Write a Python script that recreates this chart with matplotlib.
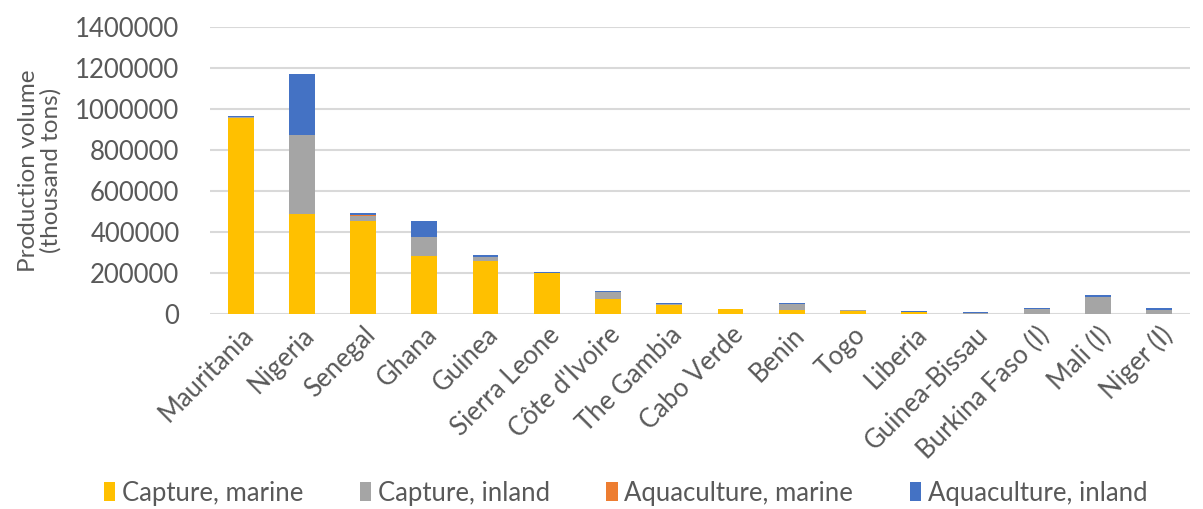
import numpy as np
import matplotlib
matplotlib.use("Agg")
import matplotlib.pyplot as plt

countries = ["Mauritania", "Nigeria", "Senegal", "Ghana", "Guinea", "Sierra Leone",
             "Côte d'Ivoire", "The Gambia", "Cabo Verde", "Benin", "Togo", "Liberia",
             "Guinea-Bissau", "Burkina Faso (I)", "Mali (I)", "Niger (I)"]
capture_marine = [955000, 486000, 454000, 283000, 257000, 198000, 72000, 45000, 26000,
                  21000, 17000, 11000, 2000, 0, 0, 0]
capture_inland = [8000, 387000, 26000, 91000, 23000, 1000, 34000, 2000, 0,
                  28000, 2000, 1000, 2000, 24000, 84000, 22000]
aqua_marine = [0, 0, 5000, 0, 0, 0, 0, 0, 0, 0, 0, 0, 0, 0, 0, 0]
aqua_inland = [2000, 296000, 8000, 78000, 8000, 6000, 6000, 5000, 0,
               6000, 3000, 4000, 4000, 6000, 7000, 7000]

series = [
    ("Capture, marine", capture_marine, "#FFC000"),
    ("Capture, inland", capture_inland, "#A5A5A5"),
    ("Aquaculture, marine", aqua_marine, "#ED7D31"),
    ("Aquaculture, inland", aqua_inland, "#4472C4"),
]

plt.rcParams["font.family"] = ["Lato", "DejaVu Sans"]
fig = plt.figure(figsize=(12.03, 5.09), dpi=100)
ax = fig.add_axes([0.1746, 0.383, 0.8144, 0.564])

x = np.arange(len(countries))
bottom = np.zeros(len(countries))
for label, vals, color in series:
    vals = np.array(vals, dtype=float)
    ax.bar(x, vals, 0.42, bottom=bottom, color=color, label=label,
           linewidth=0, zorder=3)
    bottom += vals

ax.set_xlim(-0.5, len(countries) - 0.5)
ax.set_ylim(0, 1400000)
ax.set_yticks(np.arange(0, 1400001, 200000))
ax.set_yticklabels([f"{int(v)}" for v in np.arange(0, 1400001, 200000)])
ax.yaxis.grid(True, color="#d9d9d9", linewidth=1.5, zorder=0)
for s in ax.spines.values():
    s.set_visible(False)
ax.tick_params(axis="both", length=0, labelsize=18.5, labelcolor="#595959")
ax.tick_params(axis="y", pad=22)
ax.tick_params(axis="x", pad=6)
ax.set_xticks(x)
ax.set_xticklabels(countries, rotation=45, ha="right", rotation_mode="anchor")
ax.set_ylabel("Production volume\n(thousand tons)", fontsize=17.5, color="#595959",
              linespacing=1.05, labelpad=10)

handles, labels = ax.get_legend_handles_labels()
fig.legend(handles, labels, loc="center", bbox_to_anchor=(0.52, 0.031), ncol=4,
           frameon=False, fontsize=18.5, labelcolor="#595959", handlelength=0.45,
           handleheight=0.75, handletextpad=0.25, columnspacing=2.2)

fig.savefig("out.png", dpi=100)
